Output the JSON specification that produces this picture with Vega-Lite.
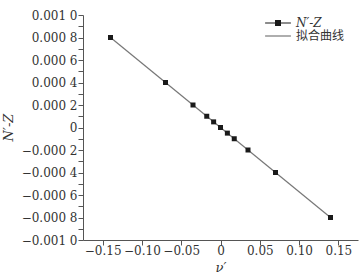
{
  "$schema": "https://vega.github.io/schema/vega-lite/v6.json",
  "width": 275,
  "height": 225,
  "autosize": "none",
  "padding": {"left": 83, "top": 15, "right": 6, "bottom": 35},
  "background": "white",
  "config": {
    "view": {"stroke": null},
    "axis": {"domainColor": "#555", "tickColor": "#555", "labelColor": "#333", "titleColor": "#333", "labelFont": "DejaVu Serif", "titleFont": "DejaVu Serif", "labelFontSize": 12, "titleFontSize": 13, "grid": false}
  },
  "data": {"values": [
    {"series": "N′-Z", "x": -0.14, "y": 0.0008},
    {"series": "N′-Z", "x": -0.07, "y": 0.0004},
    {"series": "N′-Z", "x": -0.035, "y": 0.0002},
    {"series": "N′-Z", "x": -0.0175, "y": 0.0001},
    {"series": "N′-Z", "x": -0.00875, "y": 0.00005},
    {"series": "N′-Z", "x": 0, "y": 0},
    {"series": "N′-Z", "x": 0.00875, "y": -0.00005},
    {"series": "N′-Z", "x": 0.0175, "y": -0.0001},
    {"series": "N′-Z", "x": 0.035, "y": -0.0002},
    {"series": "N′-Z", "x": 0.07, "y": -0.0004},
    {"series": "N′-Z", "x": 0.14, "y": -0.0008},
    {"series": "拟合曲线", "x": -0.14, "y": 0.0008},
    {"series": "拟合曲线", "x": 0.14, "y": -0.0008}
  ]},
  "encoding": {
    "x": {"field": "x", "type": "quantitative",
      "scale": {"domain": [-0.175, 0.175], "nice": false, "zero": false},
      "axis": {"title": "ν′", "titleFontStyle": "italic", "titleFontWeight": "normal", "titleY": 27, "titleBaseline": "middle",
        "values": [-0.15, -0.1, -0.05, 0, 0.05, 0.1, 0.15],
        "labelExpr": "datum.value == 0 ? '0' : (datum.value < 0 ? '−' : '') + format(abs(datum.value), '.2f')",
        "labelPadding": 0, "labelFlush": false,
        "encode": {"ticks": {"update": {"y2": {"value": -5}}}}}},
    "y": {"field": "y", "type": "quantitative",
      "scale": {"domain": [-0.001, 0.001], "nice": false},
      "axis": {"title": "N′-Z", "titleFontStyle": "italic", "titleFontWeight": "normal", "titleX": -68, "titleY": 112,
        "values": [-0.001, -0.0009, -0.0008, -0.0007, -0.0006, -0.0005, -0.0004, -0.0003, -0.0002, -0.0001, 0, 0.0001, 0.0002, 0.0003, 0.0004, 0.0005, 0.0006, 0.0007, 0.0008, 0.0009, 0.001],
        "labelExpr": "round(abs(datum.value) * 10000) % 2 != 0 ? '' : (datum.value == 0 ? '0' : (datum.value < 0 ? '−' : '') + substring(format(abs(datum.value), '.4f'), 0, 5) + ' ' + substring(format(abs(datum.value), '.4f'), 5))",
        "labelPadding": 1, "labelFlush": false,
        "encode": {"ticks": {"update": {"x2": {"signal": "round(abs(datum.value) * 10000) % 2 != 0 ? 3 : 5"}}}}}},
    "color": {"field": "series", "type": "nominal",
      "scale": {"domain": ["N′-Z", "拟合曲线"], "range": ["#1a1a1a", "#777777"]},
      "legend": {"title": null, "orient": "none", "legendX": 189, "legendY": 2, "padding": 0,
        "symbolSize": 36, "symbolStrokeWidth": 1.2, "labelFont": "DejaVu Serif, Noto Sans CJK SC", "labelFontSize": 12, "labelColor": "#333",
        "rowPadding": 1, "labelOffset": 12,
        "encode": {
          "symbols": {"update": {
            "shape": {"signal": "datum.value == 'N′-Z' ? 'M-4.3,0H4.3M-0.8,-0.8H0.8V0.8H-0.8Z' : 'M-4.3,0H4.3'"},
            "fill": {"signal": "datum.value == 'N′-Z' ? '#1a1a1a' : 'transparent'"}
          }},
          "labels": {"update": {"fontStyle": {"signal": "datum.value == 'N′-Z' ? 'italic' : 'normal'"}}}
        }}}
  },
  "layer": [
    {"transform": [{"filter": "datum.series == '拟合曲线'"}], "mark": {"type": "line", "strokeWidth": 1.2}},
    {"transform": [{"filter": "datum.series == 'N′-Z'"}], "mark": {"type": "point", "shape": "square", "filled": true, "size": 25, "opacity": 1}}
  ]
}
